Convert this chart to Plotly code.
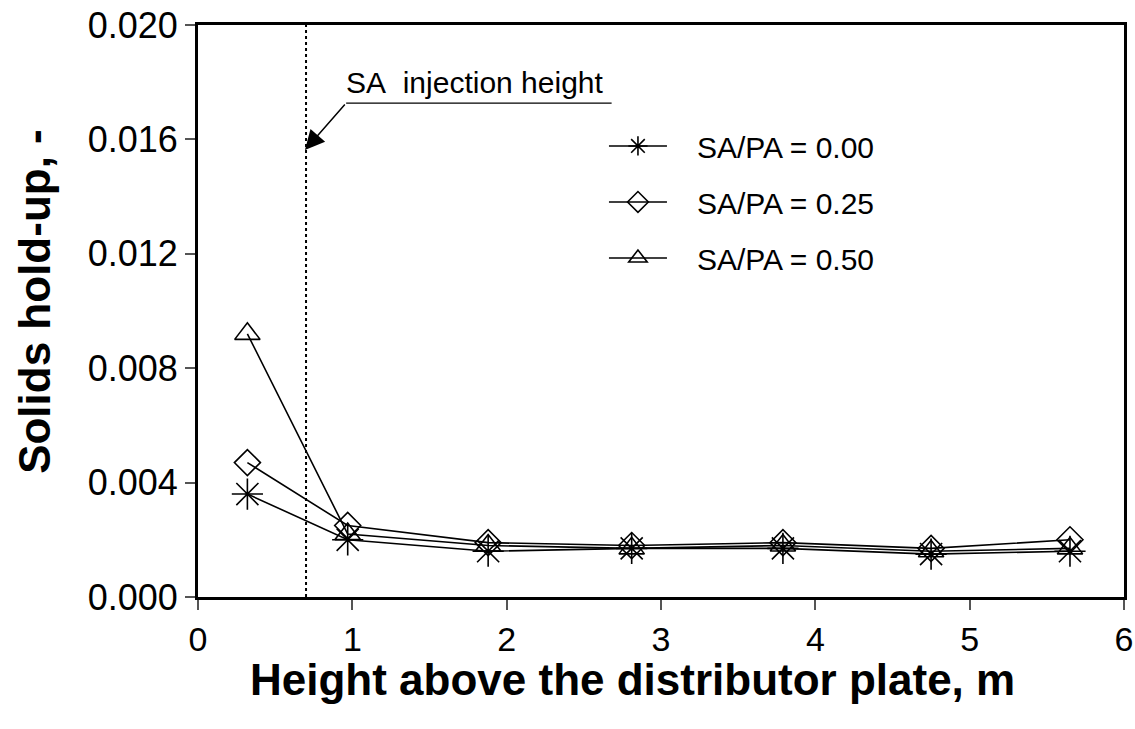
import plotly.graph_objects as go

# Data
height_m = [0.32, 0.97, 1.88, 2.81, 3.79, 4.75, 5.65]
holdup_sapa_000 = [0.0036, 0.0020, 0.0016, 0.0017, 0.0017, 0.0015, 0.0016]
holdup_sapa_025 = [0.0047, 0.0025, 0.0019, 0.0018, 0.0019, 0.0017, 0.0020]
holdup_sapa_050 = [0.0092, 0.0022, 0.0018, 0.0017, 0.0018, 0.0016, 0.0017]
series_names = ["SA/PA = 0.00", "SA/PA = 0.25", "SA/PA = 0.50"]
injection_height = 0.70

x_ticks = [0, 1, 2, 3, 4, 5, 6]
y_ticks = [0.000, 0.004, 0.008, 0.012, 0.016, 0.020]

FONT = "Arial, 'Liberation Sans', sans-serif"

fig = go.Figure()
symbols = ["asterisk-open", "diamond-open", "triangle-up-open"]
sizes = [26, 20, 22]
for i, (name, ys) in enumerate(zip(series_names, [holdup_sapa_000, holdup_sapa_025, holdup_sapa_050])):
    fig.add_trace(go.Scatter(
        x=height_m, y=ys, name="&nbsp;&nbsp;&nbsp;" + name, mode="lines+markers",
        legendgroup=f"g{i}",
        line=dict(color="black", width=1.6),
        marker=dict(symbol=symbols[i], size=sizes[i], color="black",
                    line=dict(color="black", width=1.6)),
    ))

# Dotted vertical line for SA injection height
fig.add_shape(type="line", xref="x", yref="y",
              x0=injection_height, x1=injection_height, y0=0, y1=0.020,
              line=dict(color="black", width=2, dash="dot"))

# Annotation: underline and arrow
fig.add_shape(type="line", xref="x", yref="y",
              x0=0.96, x1=2.68, y0=0.01727, y1=0.01727,
              line=dict(color="black", width=1.3))
fig.add_annotation(x=0.693, y=0.01563, ax=0.96, ay=0.01727,
                   xref="x", yref="y", axref="x", ayref="y",
                   text="", showarrow=True, arrowhead=2, arrowsize=2.6,
                   arrowwidth=1.5, arrowcolor="black")
fig.add_annotation(x=1.79, y=0.0180, xref="x", yref="y",
                   text="SA&nbsp;&nbsp;injection height", showarrow=False,
                   font=dict(family=FONT, size=30, color="black"))

# Axis titles
fig.add_annotation(x=0.4687, y=-0.145, xref="paper", yref="paper",
                   text="<b>Height above the distributor plate, m</b>",
                   showarrow=False, xanchor="center", yanchor="middle",
                   font=dict(family=FONT, size=44, color="black"))
fig.add_annotation(x=-0.176, y=0.516, xref="paper", yref="paper",
                   text="<b>Solids hold-up, -</b>", textangle=-90,
                   showarrow=False, xanchor="center", yanchor="middle",
                   font=dict(family=FONT, size=44, color="black"))

fig.update_layout(
    width=1135, height=729,
    margin=dict(l=198, r=11, t=25, b=132, autoexpand=False),
    paper_bgcolor="white", plot_bgcolor="white",
    font=dict(family=FONT, color="black"),
    showlegend=True,
    legend=dict(x=0.4384, y=0.834, xanchor="left", yanchor="top",
                font=dict(family=FONT, size=30, color="black"),
                bgcolor="rgba(0,0,0,0)", tracegroupgap=14,
                itemwidth=58),
)
fig.update_xaxes(
    range=[0, 6], tickvals=x_ticks, ticktext=[str(v) for v in x_ticks],
    ticks="outside", ticklen=10, tickwidth=1.5, tickcolor="#555",
    showgrid=False, zeroline=False, automargin=False,
    showline=True, linecolor="black", linewidth=3, mirror=True,
    tickfont=dict(family=FONT, size=34, color="black"),
)
fig.update_yaxes(
    range=[0, 0.020], tickvals=y_ticks, ticktext=[f"{v:.3f}" for v in y_ticks],
    ticks="outside", ticklen=10, tickwidth=1.5, tickcolor="#555",
    showgrid=False, zeroline=False, automargin=False,
    showline=True, linecolor="black", linewidth=3, mirror=True,
    tickfont=dict(family=FONT, size=36, color="black"),
)

fig.write_html("out.html", config={"displayModeBar": False},
               post_script="document.body.style.margin='0px';")
